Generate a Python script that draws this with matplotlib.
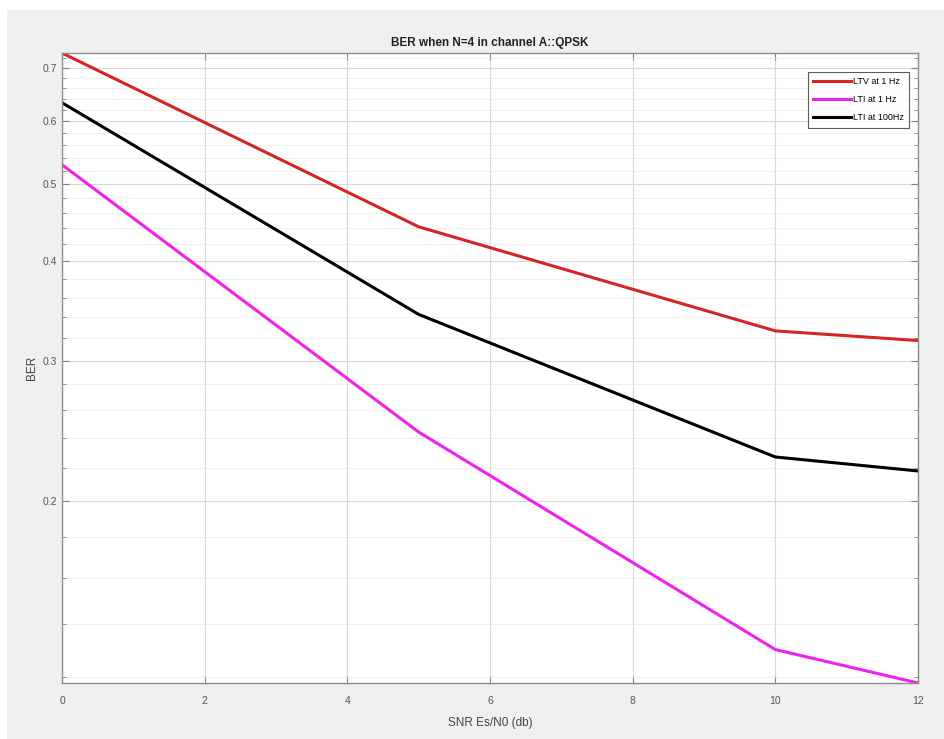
import numpy as np
import matplotlib
matplotlib.use("Agg")
import matplotlib.pyplot as plt
from matplotlib.ticker import MultipleLocator, FormatStrFormatter, NullFormatter
from matplotlib.patches import Rectangle

plt.rcParams['font.family'] = ['Liberation Sans', 'DejaVu Sans']

# data (SNR in dB, BER)
snr = [0, 5, 10, 12]
ber_ltv_1hz = [0.731, 0.442, 0.327, 0.318]
ber_lti_1hz = [0.529, 0.244, 0.130, 0.118]
ber_lti_100hz = [0.633, 0.343, 0.227, 0.218]

labels = ["LTV at 1 Hz", "LTI at 1 Hz", "LTI at 100Hz"]
colors = ["#d42424", "#ee22ee", "#000000"]

fig = plt.figure(figsize=(9.44, 7.39), dpi=100, facecolor="white")
# matlab grey figure area
fig.patches.append(Rectangle((7/944, 0), 1, 1 - 10/739, transform=fig.transFigure,
                             facecolor="#f0f0f0", edgecolor="none", zorder=-10))
ax = fig.add_axes([62/944, 1 - 683/739, 856/944, 630/739])
ax.set_facecolor("white")

for y, lab, c in zip([ber_ltv_1hz, ber_lti_1hz, ber_lti_100hz], labels, colors):
    ax.plot(snr, y, color=c, lw=2.2, label=lab)

ax.set_yscale("log")
ax.set_xlim(0, 12)
ax.set_ylim(min(ber_lti_1hz), max(ber_ltv_1hz))
ax.xaxis.set_major_locator(MultipleLocator(2))
ax.yaxis.set_major_locator(MultipleLocator(0.1))
ax.yaxis.set_major_formatter(FormatStrFormatter("%.1f"))
ax.yaxis.set_minor_locator(MultipleLocator(0.02))
ax.yaxis.set_minor_formatter(NullFormatter())

ax.grid(True, which="major", color="#d9d9d9", lw=0.8)
ax.grid(True, which="minor", axis="y", color="#ececec", lw=0.6)
ax.set_axisbelow(True)

ax.tick_params(which="both", direction="in", top=True, right=True,
               colors="#808080", labelcolor="#555555", labelsize=7.5)
ax.tick_params(which="major", length=5)
ax.tick_params(which="minor", length=3)
ax.tick_params(axis="x", pad=9)
for s in ax.spines.values():
    s.set_color("#8c8c8c")
    s.set_linewidth(1.0)

ax.set_title("BER when N=4 in channel A::QPSK", fontsize=8.5, fontweight="bold",
             color="#222222", pad=5)
ax.set_xlabel("SNR Es/N0 (db)", fontsize=8.5, color="#444444", labelpad=8)
ax.set_ylabel("BER", fontsize=8.5, color="#444444", labelpad=3)

leg = ax.legend(loc="upper right", fontsize=6.5, frameon=True, fancybox=False,
                edgecolor="#333333", handlelength=4.2, handletextpad=0.2,
                borderpad=0.6, labelspacing=1.0, bbox_to_anchor=(0.995, 0.977))
leg.get_frame().set_linewidth(0.8)

fig.savefig("out.png", dpi=100, facecolor=fig.get_facecolor())
